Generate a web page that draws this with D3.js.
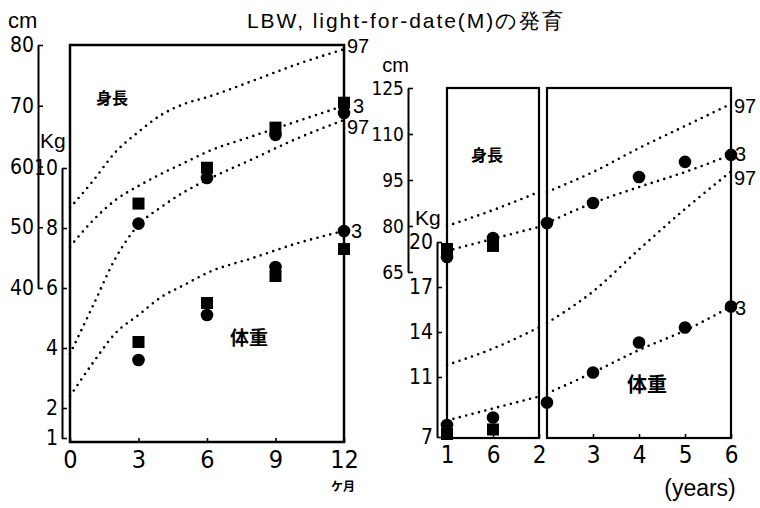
<!DOCTYPE html>
<html>
<head>
<meta charset="utf-8">
<script src="https://cdn.jsdelivr.net/npm/d3@7"></script>
<style>
  body { margin: 0; background: #fff; }
  svg text { fill: #000; }
</style>
</head>
<body>
<div id="chart"></div>
<script>
// ---- data ----
// left panel: 0-12 months
const monthsL   = [0, 1, 2, 3, 4, 5, 6, 8, 10, 12];
const heightL97 = [53.2, 57.6, 62.4, 65.7, 68.5, 70.3, 71.4, 74.1, 76.9, 79.3];
const heightL3  = [46.8, 51.1, 54.5, 56.8, 58.8, 60.6, 62.4, 65.0, 67.5, 70.0];
const weightL97 = [3.8, 5.4, 7.0, 8.1, 8.7, 9.2, 9.6, 10.3, 11.0, 11.6];
const weightL3  = [2.4, 3.5, 4.5, 5.1, 5.7, 6.1, 6.5, 7.0, 7.5, 7.9];

const obsMonthsL = [3, 6, 9, 12];
const heightSqL  = [53.9, 59.8, 66.4, 70.5];
const heightCiL  = [50.6, 58.1, 65.2, 68.8];
const weightSqL  = [4.2, 5.5, 6.4, 7.3];
const weightCiL  = [3.6, 5.1, 6.7, 7.9];

// right panel, first box: 1y - 2y
const yearsA    = [1, 1.5, 2];
const heightA97 = [80.0, 85.2, 91.1];
const heightA3  = [71.9, 75.8, 79.7];
const weightA97 = [11.8, 12.9, 14.3];
const weightA3  = [8.1, 8.9, 9.7];
const obsYearsA = [1, 1.5];
const heightSqA = [72.5, 73.5];
const heightCiA = [69.9, 76.1];
const weightSqA = [7.2, 7.5];
const weightCiA = [7.8, 8.3];

// right panel, second box: 2y - 6y
const yearsB    = [2, 3, 4, 5, 6];
const heightB97 = [91.1, 97.6, 105.4, 112.6, 119.8];
const heightB3  = [81.0, 87.5, 92.7, 97.6, 103.2];
const weightB97 = [14.6, 16.7, 19.5, 22.2, 24.7];
const weightB3  = [9.9, 11.3, 12.8, 14.1, 15.7];
const heightCiB = [81.0, 87.5, 96.0, 100.9, 103.2];
const weightCiB = [9.3, 11.3, 13.3, 14.3, 15.7];

// ticks
const tickCmL     = [40, 50, 60, 70, 80];
const tickKgL     = [1, 2, 4, 6, 8, 10];
const tickMonths  = [0, 3, 6, 9, 12];
const tickCmR     = [65, 80, 95, 110, 125];
const tickKgR     = [7, 11, 14, 17, 20];
const tickYearsA  = [1, 1.5, 2];
const tickLabelsA = ["1", "6", "2"];
const tickYearsB  = [3, 4, 5, 6];

const narrow = '"Liberation Sans Narrow","DejaVu Sans Condensed","Liberation Sans",sans-serif';
const sans = '"Liberation Sans",Arial,sans-serif';
const jp = '"Noto Sans CJK JP",sans-serif';

const svg = d3.select("#chart")
  .append("svg")
    .attr("width", 760)
    .attr("height", 508);

// scales
const xL   = d3.scaleLinear().domain([0, 12]).range([70, 344]);
const yLcm = d3.scaleLinear().domain([40, 80]).range([288, 45]);
const yLkg = d3.scaleLinear().domain([1, 10]).range([438, 168]);
const xA   = d3.scaleLinear().domain([1, 2]).range([447, 539]);
const xB   = d3.scaleLinear().domain([2, 6]).range([547, 731]);
const yRcm = d3.scaleLinear().domain([65, 125]).range([272, 88]);
const yRkg = d3.scaleLinear().domain([7, 20]).range([437, 242]);

const leftBottom = 442, rightBottom = 438;

// title
svg.append("text")
  .attr("x", 247).attr("y", 28)
  .attr("textLength", 316).attr("lengthAdjust", "spacing")
  .style("font-family", sans).style("font-size", "21px")
  .text("LBW, light-for-date(M)の発育");

// boxes
svg.append("rect")
  .attr("x", xL(0)).attr("y", yLcm(80))
  .attr("width", xL(12) - xL(0)).attr("height", leftBottom - yLcm(80))
  .attr("fill", "none").attr("stroke", "#000").attr("stroke-width", 2.5);
svg.append("rect")
  .attr("x", xA(1)).attr("y", yRcm(125))
  .attr("width", xA(2) - xA(1)).attr("height", rightBottom - yRcm(125))
  .attr("fill", "none").attr("stroke", "#000").attr("stroke-width", 2.2);
svg.append("rect")
  .attr("x", xB(2)).attr("y", yRcm(125))
  .attr("width", xB(6) - xB(2)).attr("height", rightBottom - yRcm(125))
  .attr("fill", "none").attr("stroke", "#000").attr("stroke-width", 2.2);

// vertical axes
function vAxis(scale, ticks, x, size, font) {
  const g = svg.append("g")
    .attr("transform", `translate(${x},0)`)
    .call(d3.axisLeft(scale).tickValues(ticks).tickSizeInner(-5).tickSizeOuter(0).tickPadding(4));
  g.select(".domain").attr("stroke-width", 2);
  g.selectAll(".tick line").attr("stroke-width", 1.6);
  g.selectAll("text").style("font-family", font).style("font-size", size + "px");
  return g;
}
vAxis(yLcm, tickCmL, 38, 21, narrow);
vAxis(yLkg, tickKgL, 62, 21, narrow);
vAxis(yRcm, tickCmR, 408, 19, narrow);
vAxis(yRkg, tickKgR, 437, 21, narrow);

// bottom axes
function hAxis(scale, ticks, y, size, fmt) {
  const ax = d3.axisBottom(scale).tickValues(ticks).tickSizeInner(-4).tickSizeOuter(0).tickPadding(8)
    .tickFormat(fmt || d3.format("d"));
  const g = svg.append("g").attr("transform", `translate(0,${y})`).call(ax);
  g.select(".domain").remove();
  g.selectAll(".tick line").attr("stroke-width", 1.6);
  g.selectAll("text").style("font-family", narrow).style("font-size", size + "px");
  return g;
}
hAxis(xL, tickMonths, leftBottom, 25);
hAxis(xA, tickYearsA, rightBottom, 24, (d, i) => tickLabelsA[i]);
hAxis(xB, tickYearsB, rightBottom, 24);

// unit labels
function label(x, y, txt, size, font, anchor, weight) {
  svg.append("text")
    .attr("x", x).attr("y", y)
    .attr("text-anchor", anchor || "start")
    .style("font-family", font).style("font-size", size + "px")
    .style("font-weight", weight || "normal")
    .text(txt);
}
label(8, 28, "cm", 22, sans);
label(40, 148, "Kg", 21, sans);
label(409, 72, "cm", 20, sans, "end");
label(415, 225, "Kg", 21, sans);
label(343, 491, "ケ月", 12, jp, "middle", 700);
label(700, 496, "(years)", 23, sans, "middle");
label(112, 104, "身長", 16, jp, "middle", 700);
label(487, 161, "身長", 16, jp, "middle", 700);
label(249, 345, "体重", 19, jp, "middle", 700);
label(647, 392, "体重", 20, jp, "middle", 700);

// dotted percentile curves
function dotted(xs, ys, x, y) {
  const line = d3.line()
    .x((d, i) => x(xs[i]))
    .y(d => y(d))
    .curve(d3.curveMonotoneX);
  svg.append("path")
    .datum(ys)
    .attr("d", line)
    .attr("fill", "none")
    .attr("stroke", "#000")
    .attr("stroke-width", 2.6)
    .attr("stroke-linecap", "round")
    .attr("stroke-dasharray", "0 6.6");
}
dotted(monthsL, heightL97, xL, yLcm);
dotted(monthsL, heightL3, xL, yLcm);
dotted(monthsL, weightL97, xL, yLkg);
dotted(monthsL, weightL3, xL, yLkg);
dotted(yearsA, heightA97, xA, yRcm);
dotted(yearsA, heightA3, xA, yRcm);
dotted(yearsA, weightA97, xA, yRkg);
dotted(yearsA, weightA3, xA, yRkg);
dotted(yearsB, heightB97, xB, yRcm);
dotted(yearsB, heightB3, xB, yRcm);
dotted(yearsB, weightB97, xB, yRkg);
dotted(yearsB, weightB3, xB, yRkg);

// observed points
function squares(xs, ys, x, y) {
  svg.append("g").selectAll("rect")
    .data(ys)
    .enter()
    .append("rect")
      .attr("x", (d, i) => x(xs[i]) - 6)
      .attr("y", d => y(d) - 6)
      .attr("width", 12).attr("height", 12)
      .attr("fill", "#000");
}
function circles(xs, ys, x, y) {
  svg.append("g").selectAll("circle")
    .data(ys)
    .enter()
    .append("circle")
      .attr("cx", (d, i) => x(xs[i]))
      .attr("cy", d => y(d))
      .attr("r", 6.3)
      .attr("fill", "#000");
}
squares(obsMonthsL, heightSqL, xL, yLcm);
circles(obsMonthsL, heightCiL, xL, yLcm);
squares(obsMonthsL, weightSqL, xL, yLkg);
circles(obsMonthsL, weightCiL, xL, yLkg);
squares(obsYearsA, heightSqA, xA, yRcm);
circles(obsYearsA, heightCiA, xA, yRcm);
squares(obsYearsA, weightSqA, xA, yRkg);
circles(obsYearsA, weightCiA, xA, yRkg);
circles(yearsB, heightCiB, xB, yRcm);
circles(yearsB, weightCiB, xB, yRkg);

// percentile tags at curve ends
function tag(x, yv, txt) {
  svg.append("text")
    .attr("x", x).attr("y", yv).attr("dy", "0.36em")
    .style("font-family", sans).style("font-size", "20px")
    .text(txt);
}
tag(xL(12) + 3, yLcm(heightL97[heightL97.length - 1]) - 3, "97");
tag(xL(12) + 9, yLcm(heightL3[heightL3.length - 1]), "3");
tag(xL(12) + 3, yLkg(weightL97[weightL97.length - 1]) + 7, "97");
tag(xL(12) + 7, yLkg(weightL3[weightL3.length - 1]), "3");
tag(xB(6) + 3, yRcm(heightB97[heightB97.length - 1]) + 2, "97");
tag(xB(6) + 4, yRcm(heightB3[heightB3.length - 1]) - 1, "3");
tag(xB(6) + 3, yRkg(weightB97[weightB97.length - 1]) + 6, "97");
tag(xB(6) + 4, yRkg(weightB3[weightB3.length - 1]) + 1, "3");
</script>
</body>
</html>
